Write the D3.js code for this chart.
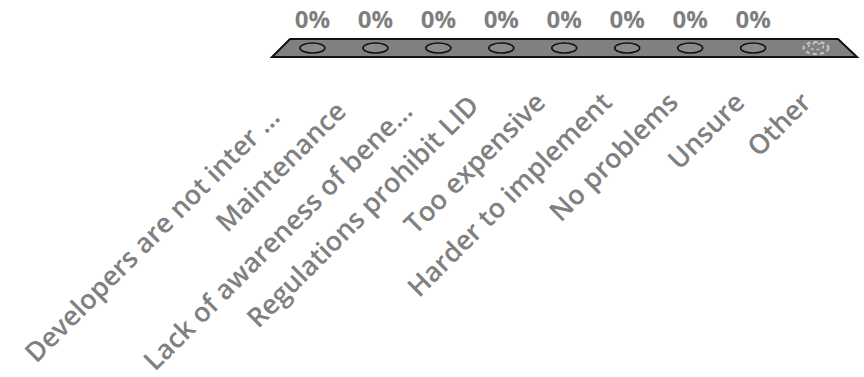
<!DOCTYPE html>
<html>
<head>
<meta charset="utf-8">
<script src="https://cdn.jsdelivr.net/npm/d3@7"></script>
<style>
  html, body { margin: 0; padding: 0; background: #fff; }
  svg { display: block; }
</style>
</head>
<body>
<svg id="chart" width="864" height="377"></svg>
<script>
// Survey answers (share of respondents); "Other" has no value
const categories = [
  "Developers are not inter …",
  "Maintenance",
  "Lack of awareness of bene…",
  "Regulations prohibit LID",
  "Too expensive",
  "Harder to implement",
  "No problems",
  "Unsure",
  "Other"
];
const values = [0, 0, 0, 0, 0, 0, 0, 0, null];

const W = 864, H = 377;
const svg = d3.select("#chart");

// 3D floor: back edge is narrower than the front edge (perspective)
const floorBackY = 39, floorFrontY = 57, floorMidY = 48;
const xBack  = d3.scaleBand().domain(categories).range([290, 838]).padding(0);
const xFront = d3.scaleBand().domain(categories).range([272, 857]).padding(0);
const xMid   = d3.scaleBand().domain(categories).range([281, 847.5]).padding(0);
// category labels hang below the front edge, projected slightly wider;
// the label line dips a little towards the near (left) end, and
// truncated labels sit a little lower inside their wider boxes
const xLab   = d3.scaleBand().domain(categories).range([248, 846]).padding(0);
const labDrop = d3.scaleLinear().domain([0, 4]).range([12, 0]).clamp(true);
const isTruncated = c => c.endsWith("…");

// value scale: height of each cylinder above the floor
const y = d3.scaleLinear().domain([0, 1]).range([floorMidY, floorMidY - 40]);

const floorPts = [
  [xBack.range()[0], floorBackY],
  [xBack.range()[1], floorBackY],
  [xFront.range()[1], floorFrontY],
  [xFront.range()[0], floorFrontY]
];
svg.append("polygon")
  .attr("points", floorPts.map(p => p.join(",")).join(" "))
  .attr("fill", "#808080")
  .attr("stroke", "#111")
  .attr("stroke-width", 2)
  .attr("stroke-linejoin", "miter");

// cylinders (all at zero height, so only their caps show)
const rx = 12.5, ry = 5;
const bars = svg.append("g").selectAll("g")
  .data(categories.map((c, i) => ({ c, v: values[i] })))
  .join("g")
  .attr("transform", d => `translate(${xMid(d.c) + xMid.bandwidth() / 2},0)`);

bars.filter(d => d.v !== null).append("ellipse")
  .attr("cx", 0)
  .attr("cy", d => y(d.v))
  .attr("rx", rx).attr("ry", ry)
  .attr("fill", "#8a8a8a")
  .attr("stroke", "#111")
  .attr("stroke-width", 1.6);

// missing value: ghost outline of the cylinder
const ghost = bars.filter(d => d.v === null);
ghost.append("ellipse")
  .attr("cx", 0).attr("cy", floorMidY)
  .attr("rx", rx).attr("ry", ry + 1)
  .attr("fill", "none")
  .attr("stroke", "#c4c4c4")
  .attr("stroke-width", 2.2)
  .attr("stroke-dasharray", "4,3");
ghost.append("ellipse")
  .attr("cx", 0).attr("cy", floorMidY - 1.5)
  .attr("rx", rx - 5).attr("ry", ry - 2)
  .attr("fill", "none")
  .attr("stroke", "#c4c4c4")
  .attr("stroke-width", 1.6)
  .attr("stroke-dasharray", "2.5,3");

// value labels
const fmt = d3.format(".0%");
bars.filter(d => d.v !== null).append("text")
  .attr("x", 0)
  .attr("y", 28)
  .attr("text-anchor", "middle")
  .attr("font-family", "'Open Sans', sans-serif")
  .attr("font-weight", 700)
  .attr("font-size", 24)
  .attr("fill", "#7f7f7f")
  .text(d => fmt(d.v));

// category axis labels, rotated along the 45° diagonal
svg.append("g").selectAll("text")
  .data(categories)
  .join("text")
  .attr("transform", (c, i) =>
    `translate(${xLab(c) + xLab.bandwidth() / 2},${104 + labDrop(i) + (isTruncated(c) ? 3 : 0)}) rotate(-45)`)
  .attr("text-anchor", "end")
  .attr("font-family", "'Open Sans', sans-serif")
  .attr("font-weight", 600)
  .attr("font-size", 27)
  .attr("fill", "#808080")
  .text(c => c);
</script>
</body>
</html>
